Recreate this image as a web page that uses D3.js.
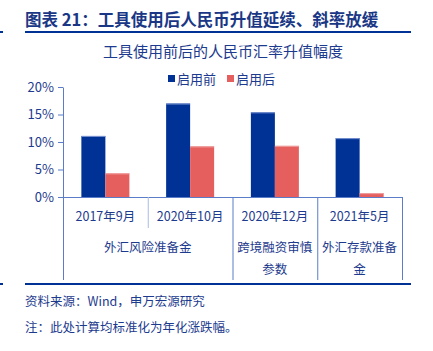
<!DOCTYPE html>
<meta charset="utf-8">
<script src="https://d3js.org/d3.v7.min.js"></script>
<style>
  body { margin: 0; background: #fff; }
  text { font-family: "Noto Sans CJK SC", "Noto Sans", sans-serif; }
</style>
<body>
<div id="canvas"></div>
<script>
// data
var periods = ["2017年9月", "2020年10月", "2020年12月", "2021年5月"];
var seriesNames = ["启用前", "启用后"];
var before = [11.1, 17.0, 15.4, 10.7];
var after = [4.3, 9.2, 9.3, 0.7];
var yTicks = [0, 5, 10, 15, 20];
var groups = [
  {name: ["外汇风险准备金"], from: 0, to: 2},
  {name: ["跨境融资审慎", "参数"], from: 2, to: 3},
  {name: ["外汇存款准备", "金"], from: 3, to: 4}
];

var width = 433, height = 351;
var textBlue = "#1c3a8e";
var axisBlue = "#5b7cc8";
var colors = ["#003296", "#e55f5f"];

var svg = d3.select("#canvas").append("svg")
  .attr("width", width)
  .attr("height", height);

// titulo
svg.append("text")
  .attr("x", 25).attr("y", 26)
  .attr("font-size", "16.5px").attr("font-weight", "bold")
  .attr("fill", "#1a3786")
  .text("图表 21：工具使用后人民币升值延续、斜率放缓");
svg.append("rect").attr("x", 25).attr("y", 31).attr("width", 386).attr("height", 2).attr("fill", "#003296");
svg.append("rect").attr("x", 0).attr("y", 31).attr("width", 3).attr("height", 2).attr("fill", "#003296");

svg.append("text")
  .attr("x", 223).attr("y", 57)
  .attr("text-anchor", "middle")
  .attr("font-size", "15px")
  .attr("fill", textBlue)
  .text("工具使用前后的人民币汇率升值幅度");

// escalas
var x = d3.scaleBand().domain(d3.range(periods.length)).range([63, 402]);
var y = d3.scaleLinear().domain([0, 20]).range([197, 87]);
var xs = d3.scaleBand().domain([0, 1]).range([0, 48]);

var g = svg.append("g");

// eixo Y
var yAxis = g.append("g")
  .attr("transform", "translate(63,0)")
  .call(d3.axisLeft(y).tickValues(yTicks).tickSize(5).tickSizeOuter(0).tickFormat(function(d) { return d + "%"; }));
yAxis.select(".domain").attr("stroke", axisBlue);
yAxis.selectAll(".tick line").attr("stroke", axisBlue);
yAxis.selectAll(".tick text").attr("fill", textBlue).attr("font-size", "13px")
  .attr("font-family", "Liberation Sans, Arial, sans-serif").attr("x", -9);

// barras
var series = [before, after];
series.forEach(function(vals, s) {
  g.selectAll(".bar" + s)
    .data(vals)
    .enter()
    .append("rect")
    .attr("x", function(d, i) { return x(i) + x.bandwidth() / 2 - 24 + xs(s); })
    .attr("y", function(d) { return y(d); })
    .attr("width", xs.bandwidth())
    .attr("height", function(d) { return y(0) - y(d); })
    .attr("fill", colors[s]);
  g.selectAll(".top" + s)
    .data(vals)
    .enter()
    .append("line")
    .attr("x1", function(d, i) { return x(i) + x.bandwidth() / 2 - 24 + xs(s); })
    .attr("x2", function(d, i) { return x(i) + x.bandwidth() / 2 - 24 + xs(s) + xs.bandwidth(); })
    .attr("y1", function(d) { return y(d) + 0.5; })
    .attr("y2", function(d) { return y(d) + 0.5; })
    .attr("stroke", s == 0 ? "#7d95d2" : "#f0a0a0")
    .attr("stroke-width", 1);
});

// eixo X
g.append("line")
  .attr("x1", 63).attr("x2", 402)
  .attr("y1", y(0) + 0.5).attr("y2", y(0) + 0.5)
  .attr("stroke", axisBlue);

// separadores
d3.range(periods.length + 1).forEach(function(i) {
  var xx = i < periods.length ? x(i) : x.range()[1];
  var inner = groups.every(function(gr) { return gr.from != i && gr.to != i; });
  g.append("line")
    .attr("x1", xx + 0.5).attr("x2", xx + 0.5)
    .attr("y1", y(0)).attr("y2", inner ? 228 : 280)
    .attr("stroke", inner ? "#a9bbe3" : axisBlue);
});

g.selectAll(".cat")
  .data(periods)
  .enter()
  .append("text")
  .attr("x", function(d, i) { return x(i) + x.bandwidth() / 2; })
  .attr("y", 221)
  .attr("text-anchor", "middle")
  .attr("font-size", "12.5px")
  .attr("fill", textBlue)
  .text(function(d) { return d; });

groups.forEach(function(gr) {
  var cx = (x(gr.from) + (gr.to < periods.length ? x(gr.to) : x.range()[1])) / 2;
  gr.name.forEach(function(line, k) {
    g.append("text")
      .attr("x", cx)
      .attr("y", 252 + k * 22)
      .attr("text-anchor", "middle")
      .attr("font-size", "12.5px")
      .attr("fill", textBlue)
      .text(line);
  });
});

// legenda
var legX = [168, 227];
seriesNames.forEach(function(n, s) {
  svg.append("rect")
    .attr("x", legX[s]).attr("y", 75)
    .attr("width", 7).attr("height", 7)
    .attr("fill", colors[s]);
  svg.append("text")
    .attr("x", legX[s] + 9).attr("y", 84)
    .attr("font-size", "13px")
    .attr("fill", textBlue)
    .text(n);
});

// rodape
svg.append("rect").attr("x", 25).attr("y", 283).attr("width", 386).attr("height", 2).attr("fill", "#003296");
svg.append("rect").attr("x", 0).attr("y", 283).attr("width", 3).attr("height", 2).attr("fill", "#003296");

svg.append("text")
  .attr("x", 25).attr("y", 306)
  .attr("font-size", "12.5px")
  .attr("fill", textBlue)
  .text("资料来源：Wind，申万宏源研究");
svg.append("text")
  .attr("x", 25).attr("y", 332)
  .attr("font-size", "12.5px")
  .attr("fill", textBlue)
  .text("注：此处计算均标准化为年化涨跌幅。");
</script>
</body>
